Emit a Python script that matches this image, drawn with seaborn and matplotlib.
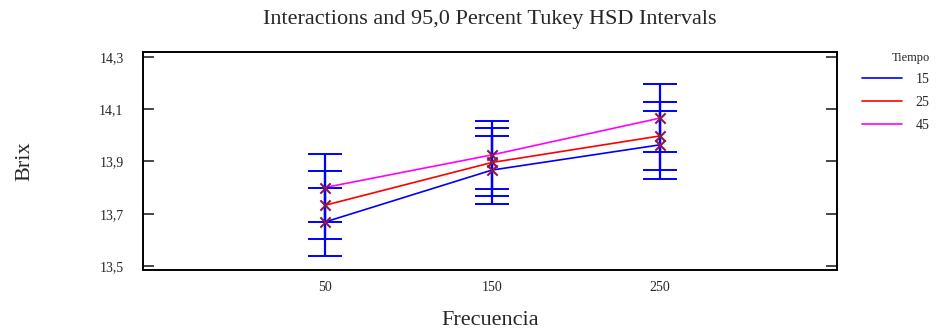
import matplotlib
matplotlib.use("Agg")
import matplotlib.pyplot as plt
import pandas as pd
import seaborn as sb

# data
frecuencia = [50, 150, 250]
tiempos = ["15", "25", "45"]
brix_15 = [13.668, 13.867, 13.963]
brix_25 = [13.732, 13.896, 13.997]
brix_45 = [13.800, 13.925, 14.065]
half_width = 0.13  # Tukey HSD interval half-width

y_ticks = [13.5, 13.7, 13.9, 14.1, 14.3]
y_tick_labels = ["13,5", "13,7", "13,9", "14,1", "14,3"]
x_tick_labels = ["50", "150", "250"]

rows = []
for t, vals in zip(tiempos, [brix_15, brix_25, brix_45]):
    for f, v in zip(frecuencia, vals):
        rows.append({"Frecuencia": f, "Brix": v, "Tiempo": t})
df = pd.DataFrame(rows)

sb.set_style("white")
plt.rcParams["font.family"] = ["Liberation Serif", "DejaVu Serif"]

fig = plt.figure(figsize=(9.4, 3.33), dpi=100)
ax = fig.add_axes([143 / 940, 63 / 333, 694 / 940, 218 / 333])

palette = {"15": "#0000ff", "25": "#ff0000", "45": "#ff00ff"}
sb.lineplot(data=df, x="Frecuencia", y="Brix", hue="Tiempo", palette=palette,
            linewidth=1.2, ax=ax, zorder=2)

ax.errorbar(df["Frecuencia"], df["Brix"], yerr=half_width, fmt="none",
            ecolor="#0000ff", elinewidth=1.6, capsize=12.5, capthick=1.4, zorder=3)
ax.scatter(df["Frecuencia"], df["Brix"], marker="x", s=55, color="#8b1a4a",
           linewidths=1.5, zorder=4)

ax.set_xlim(-58.5, 356)
ax.set_ylim(13.485, 14.318)
ax.set_yticks(y_ticks)
ax.set_yticklabels(y_tick_labels, fontsize=10)
ax.set_xticks(frecuencia)
ax.set_xticklabels(x_tick_labels, fontsize=10)
ax.tick_params(axis="y", direction="in", length=8, width=1.2, left=True, right=True, pad=14)
ax.tick_params(axis="x", length=0, pad=8)
for s in ax.spines.values():
    s.set_visible(True)
    s.set_color("black")
    s.set_linewidth(1.4)

ax.set_xlabel("Frecuencia", fontsize=16, labelpad=12)
ax.set_ylabel("Brix", fontsize=16, labelpad=47)
ax.set_title("Interactions and 95,0 Percent Tukey HSD Intervals", fontsize=16, pad=20)

leg = ax.legend(title="Tiempo", loc="upper left",
                bbox_to_anchor=(849 / 940, 294 / 333), bbox_transform=fig.transFigure,
                frameon=False, fontsize=10, title_fontsize=9,
                handlelength=2.9, handletextpad=1.0, labelspacing=0.7)
leg._legend_box.align = "right"

fig.savefig("out.png", dpi=100)
